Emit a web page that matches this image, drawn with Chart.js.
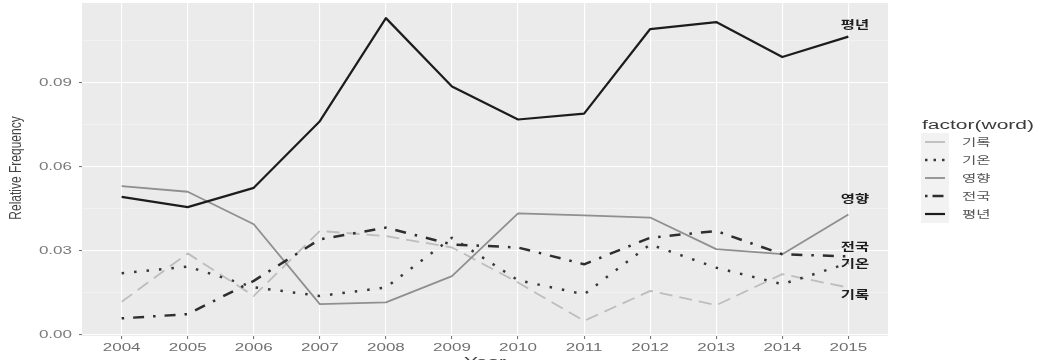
<!DOCTYPE html>
<html>
<head>
<meta charset="utf-8">
<script src="https://cdn.jsdelivr.net/npm/chart.js@4.4.0/dist/chart.umd.min.js"></script>
<style>
html,body{margin:0;padding:0;background:#fff;overflow:hidden}
canvas{display:block}
</style>
</head>
<body>
<canvas id="c" width="1045" height="360"></canvas>
<script>
// ---------- data ----------
const years = [2004, 2005, 2006, 2007, 2008, 2009, 2010, 2011, 2012, 2013, 2014, 2015];
const seriesNames = ['기록', '기온', '영향', '전국', '평년'];
const valuesGirok        = [0.0117, 0.0290, 0.0138, 0.0370, 0.0352, 0.0311, 0.0186, 0.0049, 0.0156, 0.0105, 0.0216, 0.0168];
const valuesGion         = [0.0219, 0.0243, 0.0169, 0.0138, 0.0168, 0.0346, 0.0194, 0.0144, 0.0322, 0.0239, 0.0180, 0.0255];
const valuesYeonghyang   = [0.0530, 0.0510, 0.0394, 0.0109, 0.0115, 0.0209, 0.0433, 0.0426, 0.0418, 0.0305, 0.0287, 0.0429];
const valuesJeonguk      = [0.0058, 0.0073, 0.0192, 0.0340, 0.0382, 0.0322, 0.0311, 0.0251, 0.0346, 0.0370, 0.0287, 0.0279];
const valuesPyeongnyeon  = [0.0492, 0.0455, 0.0524, 0.0762, 0.1130, 0.0886, 0.0768, 0.0789, 0.1091, 0.1116, 0.0991, 0.1064];
const yMajorTicks = [0, 0.03, 0.06, 0.09];
const yTickLabels = ['0.00', '0.03', '0.06', '0.09'];
const yMinorTicks = [0.015, 0.045, 0.075, 0.105];
const xTickLabels = years.map(String);
const endLabelValues = [0.0141, 0.0251, 0.0486, 0.0315, 0.1106]; // label heights for 기록, 기온, 영향, 전국, 평년
const legendTitle = 'factor(word)';
const xTitle = 'Year';
const yTitle = 'Relative Frequency';

const seriesValues = [valuesGirok, valuesGion, valuesYeonghyang, valuesJeonguk, valuesPyeongnyeon];

// ---------- styles ----------
const lineStyles = [
  { color: '#bdbdbd', width: 1.8, dash: [13, 7],         keyDash: [] },
  { color: '#383838', width: 2.5, dash: [2.5, 10],       keyDash: [2.5, 6] },
  { color: '#8f8f8f', width: 1.8, dash: [],              keyDash: [] },
  { color: '#2e2e2e', width: 2.5, dash: [2.5, 9, 11, 9], keyDash: [2.5, 5, 11, 5] },
  { color: '#1c1c1c', width: 2.2, dash: [],              keyDash: [] }
];

const datasets = seriesNames.map((name, i) => ({
  label: name,
  data: years.map((yr, j) => ({ x: yr, y: seriesValues[i][j] })),
  borderColor: lineStyles[i].color,
  borderWidth: lineStyles[i].width,
  borderDash: lineStyles[i].dash,
  borderCapStyle: 'butt',
  borderJoinStyle: 'round',
  pointRadius: 0,
  fill: false,
  tension: 0,
  order: seriesNames.length - i
}));

function isMajor(v) {
  return yMajorTicks.some(t => Math.abs(t - v) < 1e-9);
}

function stretchText(ctx, text, x, y, font, color, align, baseline, sx, rot) {
  ctx.save();
  ctx.font = font;
  ctx.fillStyle = color;
  ctx.textAlign = align;
  ctx.textBaseline = baseline;
  ctx.translate(x, y);
  ctx.scale(sx, 1);
  if (rot) ctx.rotate(rot);
  ctx.fillText(text, 0, 0);
  ctx.restore();
}

const bgPlugin = {
  id: 'panelBg',
  beforeDraw(chart) {
    const { ctx, chartArea: a } = chart;
    ctx.save();
    ctx.fillStyle = '#ebebeb';
    ctx.fillRect(a.left, a.top, a.right - a.left, a.bottom - a.top);
    ctx.restore();
  }
};

const textPlugin = {
  id: 'texts',
  afterDraw(chart) {
    const { ctx } = chart;
    const xs = chart.scales.x, ys = chart.scales.y;
    const latin = '"Liberation Sans", Arial, sans-serif';
    const kr = '"Noto Sans CJK KR", sans-serif';

    // y tick labels
    yMajorTicks.forEach((v, i) => {
      stretchText(ctx, yTickLabels[i], 72, ys.getPixelForValue(v) + 3.6, '10px ' + latin, '#7a7a7a', 'right', 'alphabetic', 1.7);
    });
    // x tick labels
    years.forEach((v, i) => {
      stretchText(ctx, xTickLabels[i], xs.getPixelForValue(v), 351, '10px ' + latin, '#707070', 'center', 'alphabetic', 1.7);
    });
    // axis titles
    stretchText(ctx, xTitle, (chart.chartArea.left + chart.chartArea.right) / 2, 365.5, '13px ' + latin, '#444', 'center', 'alphabetic', 1.6);
    stretchText(ctx, yTitle, 16.5, 168, '12px ' + latin, '#444', 'center', 'middle', 1.45, -Math.PI / 2);

    // end-of-line labels
    seriesNames.forEach((name, i) => {
      stretchText(ctx, name, xs.getPixelForValue(years[years.length - 1] + 0.1), ys.getPixelForValue(endLabelValues[i]),
        'bold 11px ' + kr, '#1e1e1e', 'center', 'middle', 1.4);
    });

    // legend
    stretchText(ctx, legendTitle, 922, 128.5, '12px ' + latin, '#3a3a3a', 'left', 'alphabetic', 1.75);
    seriesNames.forEach((name, i) => {
      const cy = 142 + 18 * i;
      ctx.save();
      ctx.fillStyle = '#f2f2f2';
      ctx.fillRect(921, cy - 9, 28, 18);
      ctx.strokeStyle = lineStyles[i].color;
      ctx.lineWidth = lineStyles[i].width;
      ctx.setLineDash(lineStyles[i].keyDash);
      ctx.lineCap = 'butt';
      ctx.beginPath();
      ctx.moveTo(925, cy);
      ctx.lineTo(945, cy);
      ctx.stroke();
      ctx.restore();
      stretchText(ctx, name, 962, cy, '10px ' + kr, '#555', 'left', 'middle', 1.55);
    });
  }
};

new Chart(document.getElementById('c'), {
  type: 'line',
  data: { datasets },
  plugins: [bgPlugin, textPlugin],
  options: {
    responsive: false,
    animation: false,
    devicePixelRatio: 1,
    layout: { padding: { top: 3, right: 157, bottom: 0, left: 0 } },
    plugins: { legend: { display: false }, tooltip: { enabled: false } },
    scales: {
      x: {
        type: 'linear',
        min: 2003.4,
        max: 2015.6,
        afterBuildTicks: s => { s.ticks = years.map(v => ({ value: v })); },
        afterFit: s => { s.height = 24; },
        ticks: { display: false },
        border: { display: false },
        grid: { color: '#ffffff', lineWidth: 1.1, tickColor: '#777', tickLength: 3, drawTicks: true }
      },
      y: {
        type: 'linear',
        min: -0.0005,
        max: 0.1184,
        afterBuildTicks: s => { s.ticks = yMajorTicks.concat(yMinorTicks).sort((a, b) => a - b).map(v => ({ value: v })); },
        afterFit: s => { s.width = 82; },
        ticks: { display: false },
        border: { display: false },
        grid: {
          color: c => isMajor(c.tick.value) ? '#ffffff' : '#f7f7f7',
          lineWidth: c => isMajor(c.tick.value) ? 1.1 : 0.6,
          tickColor: c => isMajor(c.tick.value) ? '#777' : 'rgba(0,0,0,0)',
          tickLength: 3,
          drawTicks: true
        }
      }
    }
  }
});
</script>
</body>
</html>
